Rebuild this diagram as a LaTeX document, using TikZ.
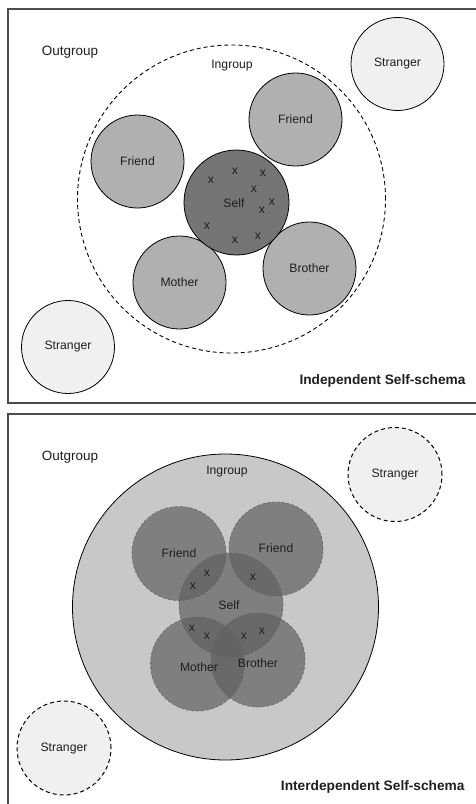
\documentclass[tikz,border=0pt]{standalone}
\usepackage{fontspec}
\setmainfont{Liberation Sans}
\definecolor{memberfill}{gray}{0.69}
\definecolor{selffill}{gray}{0.46}
\definecolor{strangerfill}{gray}{0.94}
\definecolor{ingroupfill}{gray}{0.785}
\definecolor{overlapfill}{gray}{0.38}
\definecolor{panelline}{gray}{0.3}
\definecolor{textcol}{gray}{0.12}
\begin{document}
\begin{tikzpicture}[x=1pt,y=-1pt,
  every node/.style={text=textcol, font=\fontsize{12.2}{14}\selectfont},
  panel/.style={draw=panelline, line width=1.4pt},
  solidcircle/.style={circle, draw=black, line width=0.8pt, inner sep=0pt},
  member/.style={solidcircle, fill=memberfill, minimum size=93pt},
  selfA/.style={solidcircle, fill=selffill, minimum size=105pt},
  strangerA/.style={solidcircle, fill=strangerfill, minimum size=93pt},
  ingroupdash/.style={circle, draw=black, line width=0.9pt, dash pattern=on 4pt off 3pt, inner sep=0pt, minimum size=308pt},
  strangerB/.style={circle, draw=black, line width=1pt, dash pattern=on 4pt off 3pt, fill=strangerfill, inner sep=0pt, minimum size=94pt},
  ingroupB/.style={solidcircle, fill=ingroupfill, minimum size=306pt},
  overlap/.style={circle, draw=gray!80!black, line width=0.6pt, dash pattern=on 3pt off 2pt, fill=overlapfill, fill opacity=0.7, draw opacity=1, inner sep=0pt, minimum size=94pt},
  xmark/.style={inner sep=0pt},
  titletext/.style={anchor=east, font=\bfseries\fontsize{13.7}{16}\selectfont},
  grouptext/.style={font=\fontsize{13.5}{16}\selectfont}
]
\useasboundingbox (0,0) rectangle (476,804);
\fill[white] (0,0) rectangle (476,804);

% ---------- Top panel: Independent ----------
\coordinate (pa1) at (476,9);
\coordinate (pa2) at (8,9);
\coordinate (pa3) at (8,403);
\coordinate (pa4) at (476,403);
\draw[panel] (pa1) -- (pa2) -- (pa3) -- (pa4);

\node[ingroupdash] (igA) at (231.5,199) {};
\node[strangerA] (stA1) at (397.5,64) {Stranger};
\node[strangerA] (stA2) at (68,347) {Stranger};
\node[member] (frA1) at (137.5,161.5) {Friend};
\node[member] (frA2) at (295.5,119.5) {Friend};
\node[member] (moA) at (179.5,282.5) {Mother};
\node[member] (brA) at (309.5,268.5) {Brother};
\node[selfA] (seA) at (236.5,202.5) {};
\node (seAlab) at (234,203) {Self};
\node[grouptext] (ogA) at (70,52) {Outgroup};
\node (igAlab) at (232,66) {Ingroup};
\node[titletext] (tiA) at (469,381) {Independent Self-schema};

\node[xmark] (xa1) at (211,180) {x};
\node[xmark] (xa2) at (235,171) {x};
\node[xmark] (xa3) at (263,173) {x};
\node[xmark] (xa4) at (254,189) {x};
\node[xmark] (xa5) at (272,202) {x};
\node[xmark] (xa6) at (262,210) {x};
\node[xmark] (xa7) at (207,226) {x};
\node[xmark] (xa8) at (235,240) {x};
\node[xmark] (xa9) at (258,236) {x};

% ---------- Bottom panel: Interdependent ----------
\coordinate (pb1) at (476,414);
\coordinate (pb2) at (8,414);
\coordinate (pb3) at (8,804);
\draw[panel] (pb1) -- (pb2) -- (pb3);

\node[ingroupB] (igB) at (225.5,607) {};
\node[strangerB] (stB1) at (395,474.5) {Stranger};
\node[strangerB] (stB2) at (64,748) {Stranger};

\node[overlap] (frB1) at (179,553.5) {};
\node[overlap] (frB2) at (276,549) {};
\node[overlap, minimum size=104pt] (seB) at (231,605) {};
\node[overlap] (moB) at (197.5,664) {};
\node[overlap] (brB) at (258,660) {};

\node (frB1lab) at (179,553) {Friend};
\node (frB2lab) at (276,548) {Friend};
\node (seBlab) at (229,605) {Self};
\node (moBlab) at (199,667) {Mother};
\node (brBlab) at (258,663) {Brother};
\node[grouptext] (ogB) at (70,457) {Outgroup};
\node (igBlab) at (227,472) {Ingroup};
\node[titletext] (tiB) at (468,787) {Interdependent Self-schema};

\node[xmark] (xb1) at (207,573) {x};
\node[xmark] (xb2) at (193,586) {x};
\node[xmark] (xb3) at (253,577) {x};
\node[xmark] (xb4) at (192,628) {x};
\node[xmark] (xb5) at (207,636) {x};
\node[xmark] (xb6) at (244,636) {x};
\node[xmark] (xb7) at (262,631) {x};
\end{tikzpicture}
\end{document}
